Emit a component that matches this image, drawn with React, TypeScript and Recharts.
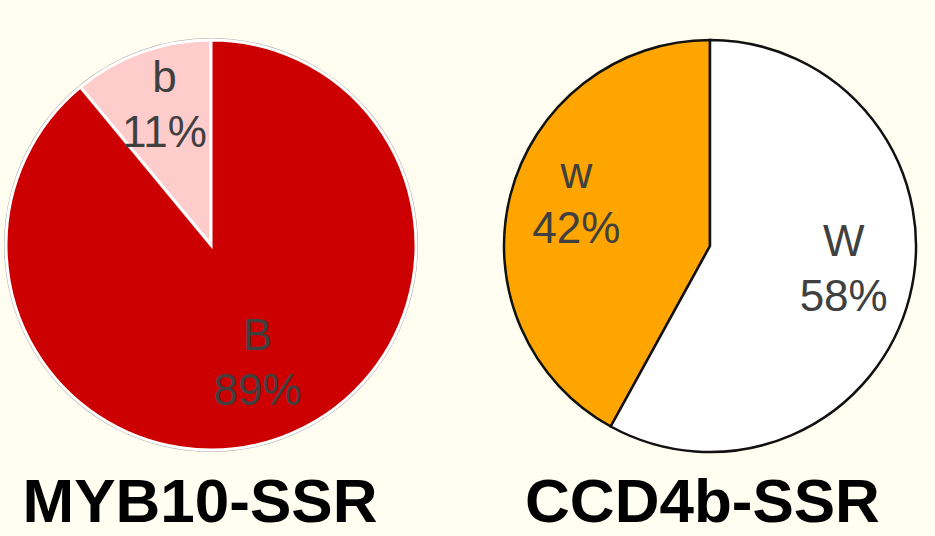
import React from "react";
import { PieChart, Pie, Cell } from "recharts";

// allele frequencies
const mybNames = ["b", "B"];
const mybValues = [11, 89];
const mybColors = ["#FFCCCC", "#CC0000"];

const ccdNames = ["w", "W"];
const ccdValues = [42, 58];
const ccdColors = ["#FFA500", "#FFFFFF"];

const titles = ["MYB10-SSR", "CCD4b-SSR"];

const mybData = mybNames.map((name, i) => ({ name, value: mybValues[i] }));
const ccdData = ccdNames.map((name, i) => ({ name, value: ccdValues[i] }));

const RAD = Math.PI / 180;

// two-line label: allele name over its percentage
const renderLabel = (props: any) => {
  const { cx, cy, midAngle, outerRadius, name, percent } = props;
  const r = outerRadius * 0.67;
  const x = cx + r * Math.cos(-midAngle * RAD);
  const y = cy + r * Math.sin(-midAngle * RAD);
  return (
    <text
      x={x}
      y={y}
      textAnchor="middle"
      fill="#404040"
      fontFamily="'Liberation Sans', Arial, sans-serif"
      fontSize={44}
    >
      <tspan x={x} dy={-24}>
        {name}
      </tspan>
      <tspan x={x} dy={55}>
        {Math.round(percent * 100)}%
      </tspan>
    </text>
  );
};

export default function App() {
  return (
    <div
      style={{
        position: "relative",
        width: 935,
        height: 536,
        background: "#FFFEF0",
        overflow: "hidden",
      }}
    >
      <style>{`html,body{margin:0;padding:0;background:#FFFEF0}`}</style>
      <PieChart
        width={935}
        height={536}
        margin={{ top: 0, right: 0, bottom: 0, left: 0 }}
      >
        {/* thin grey rim behind the red pie */}
        <Pie
          data={mybData}
          dataKey="value"
          cx={211}
          cy={245}
          outerRadius={207}
          startAngle={90}
          endAngle={450}
          fill="#a8a8a8"
          stroke="none"
          isAnimationActive={false}
        />
        <Pie
          data={mybData}
          dataKey="value"
          cx={211}
          cy={245}
          outerRadius={205}
          startAngle={90}
          endAngle={450}
          stroke="#FFFFFF"
          strokeWidth={3}
          label={renderLabel}
          labelLine={false}
          isAnimationActive={false}
        >
          {mybData.map((d, i) => (
            <Cell key={d.name} fill={mybColors[i]} />
          ))}
        </Pie>
        <Pie
          data={ccdData}
          dataKey="value"
          cx={710}
          cy={246}
          outerRadius={206}
          startAngle={90}
          endAngle={450}
          stroke="#111111"
          strokeWidth={2.5}
          label={renderLabel}
          labelLine={false}
          isAnimationActive={false}
        >
          {ccdData.map((d, i) => (
            <Cell key={d.name} fill={ccdColors[i]} />
          ))}
        </Pie>
      </PieChart>

      {titles.map((t, i) => (
        <div
          key={t}
          style={{
            position: "absolute",
            left: i === 0 ? 0 : 500,
            width: i === 0 ? 400 : 405,
            top: 476,
            textAlign: "center",
            fontFamily: "'Liberation Sans', Arial, sans-serif",
            fontWeight: 700,
            fontSize: 62,
            lineHeight: "50px",
            color: "#000",
            whiteSpace: "nowrap",
          }}
        >
          {t}
        </div>
      ))}
    </div>
  );
}
